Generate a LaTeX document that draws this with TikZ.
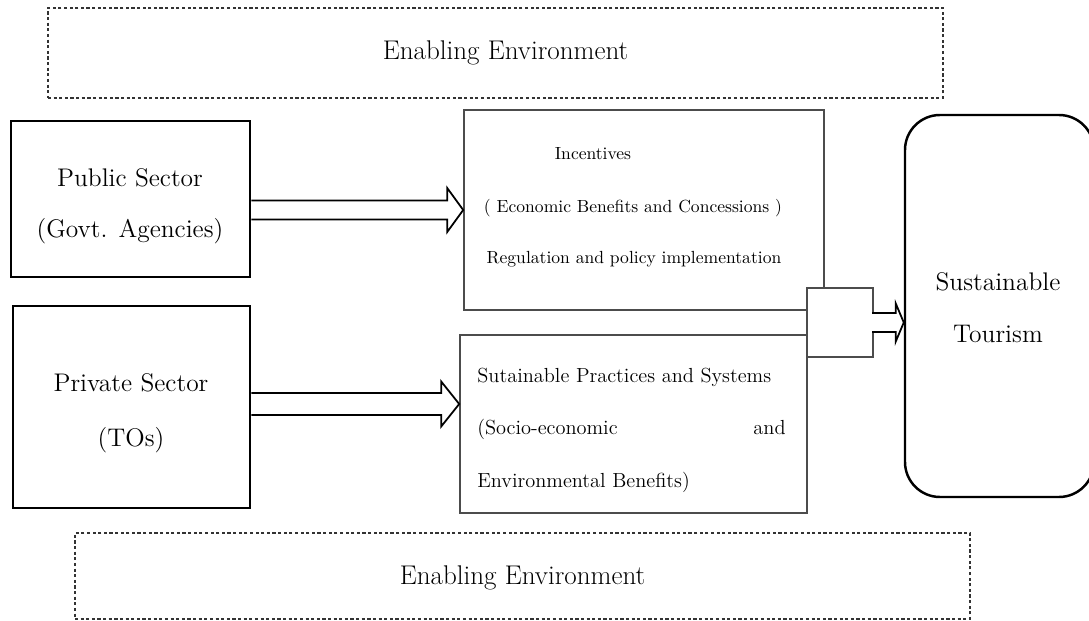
\documentclass[tikz,border=0pt]{standalone}
\usetikzlibrary{
  calc,
  fit,
  positioning,
}
\tikzset{
  envbox/.style={draw=black!80, line width=1.3pt, dash pattern=on 1.8pt off 1.4pt,
    inner sep=0pt},
  envtext/.style={inner sep=0pt, font=\fontsize{15.4}{18}\selectfont},
  sectorbox/.style={draw, line width=1.6pt, inner sep=0pt},
  sectortext/.style={inner sep=0pt, font=\fontsize{14.5}{17}\selectfont},
  infobox/.style={draw=black!70, line width=0.9pt, inner sep=0pt},
  goalbox/.style={draw, line width=1.4pt, rounded corners=0.7cm, inner sep=0pt},
  inctext/.style={inner sep=0pt, font=\fontsize{10}{12}\selectfont},
  practext/.style={inner sep=0pt, font=\fontsize{11.6}{14}\selectfont},
  blockarrow/.style={draw, line width=1pt, line join=miter},
}

\begin{document}
\begin{tikzpicture}[x=0.02cm, y=-0.02cm]
      \useasboundingbox (0,0) rectangle (1089,621);

      \node[envbox, fit={(48,8) (943,98)}] (envtop) {};
      \node[envbox, fit={(75,533) (970,619)}] (envbot) {};
      \node[envtext] (envtoptext) at ([xshift=0.2cm]envtop.center) {Enabling Environment};
      \node[envtext] (envbottext) at ([yshift=-0.04cm]envbot.center) {Enabling Environment};

      \node[sectorbox, fit={(11,121) (250,277)}] (pub) {};
      \node[sectorbox, fit={(13,306) (250,508)}] (priv) {};
      \node[goalbox, fit={(905,115) (1094,497)}] (tourism) {};
      \foreach \x/\y/\t [count=\i] in {
        130/187/Public Sector,
        130/238/(Govt. Agencies),
        131/392/Private Sector,
        131/447/(TOs),
        998/291/Sustainable,
        998/343/Tourism} {
        \node[sectortext, anchor=base] (sect\i) at (\x,\y) {\t};
      }

      \node[infobox, fit={(464,110) (824,310)}] (incent) {};
      \node[infobox, fit={(460,335) (807,513)}] (practice) {};
      \node[infobox, fill=white, fit={(807,288) (873,357)}] (merge) {};

      \foreach \x/\y/\t [count=\i] in {
        593/160/Incentives,
        633/213/{( Economic Benefits and Concessions )},
        634/264/Regulation and policy implementation
      } {
        \node[inctext, anchor=base] (inc\i) at (\x,\y) {\t};
      }
      \foreach \y/\t [count=\i] in {
        383/Sutainable Practices and Systems,
        435/{(Socio-economic},
        488/{Environmental Benefits)}
      } {
        \node[practext, anchor=base west] (prac\i) at (477,\y) {\t};
      }
      \node[practext, anchor=base east] (prac4) at (786,435) {and};

      \foreach \a/\b/\dy/\bw/\hw/\hl/\gap/\fc in {
        pub.east/incent.west/11/9.5/22/16/0pt/none,
        priv.east/practice.west/-3/11/22.5/18/0pt/none,
        merge.east/tourism.west/0/9.5/19/8/1pt/white} {
        \path[blockarrow, fill=\fc] let \p1=($(\a)+(0,\dy)$), \p2=(\b) in
          (\x1-\gap,\y1+\bw*0.02cm) -- (\x2-\hl*0.02cm,\y1+\bw*0.02cm)
          -- (\x2-\hl*0.02cm,\y1+\hw*0.02cm) -- (\x2,\y1)
          -- (\x2-\hl*0.02cm,\y1-\hw*0.02cm) -- (\x2-\hl*0.02cm,\y1-\bw*0.02cm)
          -- (\x1-\gap,\y1-\bw*0.02cm);
      }
    \end{tikzpicture}
\end{document}
